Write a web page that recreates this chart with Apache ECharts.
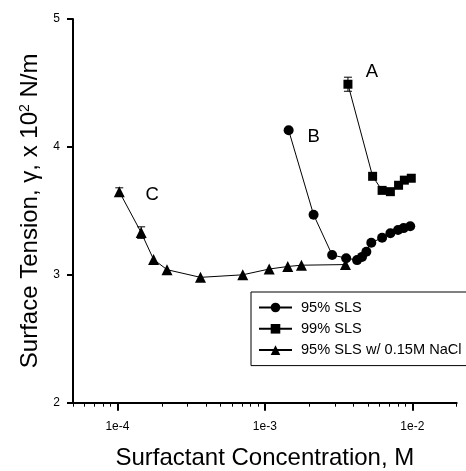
<!DOCTYPE html>
<html>
<head>
<meta charset="utf-8">
<script src="https://cdn.jsdelivr.net/npm/echarts@6/dist/echarts.min.js"></script>
<style>html,body{margin:0;padding:0;background:#fff}#c{width:466px;height:471px}</style>
</head>
<body>
<div id="c"></div>
<script>
// ---- data ----
const seriesNames = ['95% SLS', '99% SLS', '95% SLS w/ 0.15M NaCl'];
const concB = [1.45e-3, 2.14e-3, 2.86e-3, 3.56e-3, 4.22e-3, 4.56e-3, 4.88e-3, 5.27e-3, 6.24e-3, 7.10e-3, 8.0e-3, 8.73e-3, 9.68e-3];
const gammaB = [4.13, 3.47, 3.155, 3.13, 3.115, 3.14, 3.18, 3.25, 3.29, 3.325, 3.35, 3.365, 3.38];
const concA = [3.66e-3, 5.38e-3, 6.24e-3, 7.10e-3, 8.07e-3, 8.83e-3, 9.84e-3];
const gammaA = [4.49, 3.77, 3.66, 3.65, 3.70, 3.74, 3.755];
const concC = [1.03e-4, 1.45e-4, 1.76e-4, 2.17e-4, 3.66e-4, 7.08e-4, 1.07e-3, 1.43e-3, 1.77e-3, 3.52e-3];
const gammaC = [3.65, 3.33, 3.12, 3.04, 2.98, 3.0, 3.045, 3.065, 3.075, 3.08];
// error bars: x, y, half-width
const errX = [1.03e-4, 1.45e-4, 3.66e-3];
const errY = [3.65, 3.33, 4.49];
const errD = [0.03, 0.045, 0.055];
// annotations
const noteText = ['A', 'B', 'C'];
const noteX = [5.33e-3, 2.14e-3, 1.72e-4];
const noteY = [4.585, 4.08, 3.625];
// axes
const xMin = 5e-5, xMax = 2e-2;
const xMajor = [1e-4, 1e-3, 1e-2];
const xMinor = [5e-5, 6e-5, 7e-5, 8e-5, 9e-5,
  2e-4, 3e-4, 4e-4, 5e-4, 6e-4, 7e-4, 8e-4, 9e-4,
  2e-3, 3e-3, 4e-3, 5e-3, 6e-3, 7e-3, 8e-3, 9e-3, 2e-2];
const yMin = 2, yMax = 5, yStep = 1;

const zip = (a, b) => a.map((v, i) => [v, b[i]]);
const font = 'Liberation Sans, Arial, Helvetica, sans-serif';

const chart = echarts.init(document.getElementById('c'), null, {renderer: 'canvas'});
const lineSeries = (name, xs, ys, symbol, size) => ({
  name, type: 'line', data: zip(xs, ys), symbol, symbolSize: size,
  itemStyle: {color: '#000'}, lineStyle: {color: '#000', width: 1},
  emphasis: {disabled: true}, animation: false, z: 3
});

chart.setOption({
  animation: false,
  backgroundColor: '#fff',
  textStyle: {fontFamily: font},
  grid: {left: 73, right: 9.3, top: 19, bottom: 68.3, containLabel: false, outerBoundsMode: 'none'},
  legend: {
    data: seriesNames,
    orient: 'vertical', left: 251, top: 292,
    itemWidth: 33, itemHeight: 12, itemGap: 6.3,
    padding: [8, 30, 8, 7],
    borderColor: '#000', borderWidth: 1, backgroundColor: '#fff',
    textStyle: {fontSize: 14.6, color: '#000', fontFamily: font, padding: [0, 0, 0, 4]},
    selectedMode: false
  },
  xAxis: [{
    type: 'log', logBase: 10, min: xMin, max: xMax,
    name: 'Surfactant Concentration, M', nameLocation: 'middle', nameGap: 44,
    nameTextStyle: {fontSize: 24, color: '#000', fontFamily: font},
    axisLine: {lineStyle: {color: '#000', width: 2}},
    axisTick: {show: true, inside: false, length: 8, customValues: xMajor, lineStyle: {color: '#000', width: 2}},
    axisLabel: {customValues: xMajor, margin: 18, fontSize: 12, color: '#000', fontFamily: font,
      formatter: v => '1e' + Math.round(Math.log10(v))},
    splitLine: {show: false}, minorTick: {show: false}
  }, {
    type: 'log', logBase: 10, min: xMin, max: xMax, position: 'bottom',
    axisLine: {show: false},
    axisTick: {show: true, inside: false, length: 4, customValues: xMinor, lineStyle: {color: '#000', width: 1}},
    axisLabel: {show: false}, splitLine: {show: false}
  }],
  yAxis: {
    type: 'value', min: yMin, max: yMax, interval: yStep,
    name: '{a|Surface Tension, γ, x 10}{s|2}{a| N/m}', nameLocation: 'middle', nameGap: 31,
    nameTextStyle: {color: '#000', fontFamily: font, fontSize: 24,
      rich: {a: {fontSize: 24, fontFamily: font, color: '#000'},
             s: {fontSize: 14, fontFamily: font, color: '#000', verticalAlign: 'top', lineHeight: 24}}},
    axisLine: {show: true, lineStyle: {color: '#000', width: 2}},
    axisTick: {show: true, inside: false, length: 6, lineStyle: {color: '#000', width: 2}},
    axisLabel: {margin: 13, fontSize: 12, color: '#000', fontFamily: font},
    splitLine: {show: false}
  },
  series: [
    lineSeries(seriesNames[0], concB, gammaB, 'circle', 10),
    lineSeries(seriesNames[1], concA, gammaA, 'rect', 9),
    lineSeries(seriesNames[2], concC, gammaC, 'triangle', 11),
    {
      type: 'custom', name: 'err', silent: true, z: 2,
      data: errX.map((x, i) => [x, errY[i] - errD[i], errY[i] + errD[i]]),
      renderItem: (params, api) => {
        const lo = api.coord([api.value(0), api.value(1)]);
        const hi = api.coord([api.value(0), api.value(2)]);
        const w = 4;
        const st = {stroke: '#000', lineWidth: 1};
        return {type: 'group', children: [
          {type: 'line', shape: {x1: lo[0], y1: lo[1], x2: hi[0], y2: hi[1]}, style: st},
          {type: 'line', shape: {x1: lo[0] - w, y1: lo[1], x2: lo[0] + w, y2: lo[1]}, style: st},
          {type: 'line', shape: {x1: hi[0] - w, y1: hi[1], x2: hi[0] + w, y2: hi[1]}, style: st}
        ]};
      }
    },
    {
      type: 'scatter', name: 'notes', silent: true, symbolSize: 1,
      itemStyle: {color: '#000', opacity: 0},
      data: noteX.map((x, i) => ({value: [x, noteY[i]], name: noteText[i]})),
      label: {show: true, position: 'inside', formatter: p => p.name, fontSize: 18.5,
        color: '#000', textBorderWidth: 0, opacity: 1, fontFamily: font}
    }
  ]
});
</script>
</body>
</html>
